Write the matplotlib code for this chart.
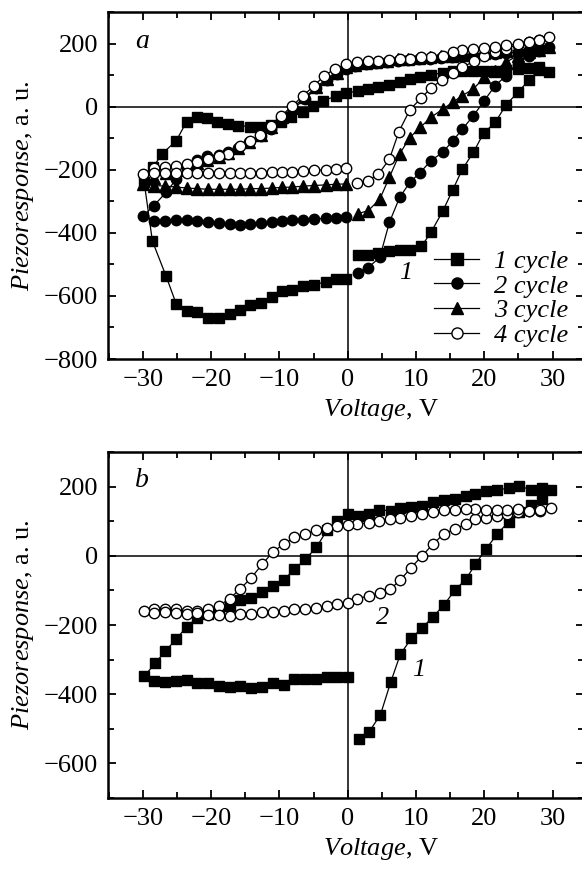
import matplotlib
matplotlib.use("Agg")
import matplotlib.pyplot as plt
from matplotlib.ticker import MultipleLocator
from matplotlib.lines import Line2D

plt.rcParams['font.family'] = ['Liberation Serif', 'DejaVu Serif']
plt.rcParams['mathtext.fontset'] = 'custom'
plt.rcParams['mathtext.rm'] = 'Liberation Serif'
plt.rcParams['mathtext.it'] = 'Liberation Serif:italic'

# ---- panel a: four switching cycles ----
a1_v = [1.5, 3.0, 4.4, 6.1, 7.6, 9.1, 10.8, 12.2, 13.9, 15.4, 16.8, 18.4, 19.9, 21.6, 23.2, 24.9, 26.5, 28.0, 29.5,
        28.0, 26.5, 24.9, 23.2, 21.6, 20.0, 18.4, 16.8, 15.4, 13.9, 12.2, 10.6, 9.1, 7.6, 6.1, 4.4, 3.0, 1.5, -0.2,
        -1.7, -3.6, -5.1, -6.5, -8.3, -9.7, -11.2, -12.9, -14.3, -16.0, -17.5, -19.2, -20.6, -22.1, -23.6, -25.1, -27.2, -28.5, -29.8,
        -28.6, -26.6, -25.1, -23.5, -22.0, -20.5, -18.9, -17.3, -15.8, -14.3, -12.7, -11.1, -9.6, -8.1, -6.5, -4.9, -3.2, -1.7, -0.2]
a1_p = [-470, -470, -465, -459, -456, -454, -443, -398, -332, -263, -198, -145, -84, -50, 6, 45, 83, 117, 109,
        125, 122, 120, 116, 114, 112, 112, 114, 112, 108, 100, 94, 87, 78, 70, 62, 56, 50, 43,
        33, 19, 3, -17, -33, -48, -58, -63, -63, -60, -55, -48, -36, -33, -48, -108, -150, -192, -240,
        -426, -537, -626, -647, -650, -669, -671, -658, -646, -630, -622, -602, -583, -580, -570, -565, -555, -547, -547]

a2_v = [1.5, 3.0, 4.7, 6.1, 7.6, 9.1, 10.6, 12.2, 13.9, 15.4, 16.8, 18.4, 20.0, 21.6, 23.2, 24.9, 26.5, 28.0, 29.5,
        28.0, 26.5, 24.9, 23.2, 21.6, 20.0, 18.4, 16.8, 15.2, 13.7, 12.1, 10.5, 8.9, 7.3, 5.8, 4.2, 2.7, 1.1, -0.2,
        -1.6, -3.1, -4.6, -6.3, -8.0, -9.6, -11.2, -12.7, -14.5, -16.0, -17.5, -18.9, -20.6, -22.1, -23.6, -25.1, -26.6, -28.4, -30.0,
        -28.4, -26.7, -25.1, -23.6, -22.0, -20.5, -18.9, -17.3, -15.8, -14.3, -12.7, -11.1, -9.6, -8.1, -6.5, -4.9, -3.2, -1.7, -0.2]
a2_p = [-526, -510, -478, -367, -288, -240, -209, -171, -145, -108, -71, -29, 19, 67, 98, 136, 162, 175, 188,
        185, 180, 172, 170, 168, 165, 162, 160, 158, 155, 152, 150, 148, 145, 140, 137, 134, 128, 118,
        104, 83, 58, 24, -7, -41, -71, -92, -111, -132, -145, -153, -156, -168, -195, -230, -272, -314, -348,
        -362, -362, -360, -360, -364, -367, -369, -372, -374, -372, -369, -366, -362, -360, -358, -356, -354, -352, -350]

a3_v = a2_v
a3_p = [-339, -330, -293, -224, -150, -98, -66, -34, -8, 14, 35, 56, 93, 114, 141, 162, 172, 178, 190,
        188, 183, 178, 175, 172, 170, 167, 165, 162, 160, 157, 155, 152, 150, 146, 142, 138, 133, 126,
        108, 88, 62, 30, -2, -33, -63, -90, -112, -130, -148, -160, -170, -180, -190, -200, -210, -225, -245,
        -250, -252, -255, -258, -260, -262, -262, -262, -262, -260, -260, -258, -256, -255, -252, -250, -248, -246, -245]

a4_v = [1.4, 2.9, 4.5, 6.1, 7.5, 9.1, 10.8, 12.2, 13.8, 15.4, 16.8, 18.5, 20.0, 21.6, 23.2, 24.9, 26.5, 28.0, 29.5,
        28.0, 26.5, 24.9, 23.2, 21.6, 20.0, 18.4, 16.8, 15.4, 13.9, 12.2, 10.8, 9.1, 7.6, 6.1, 4.5, 2.9, 1.4, -0.2,
        -1.9, -3.4, -5.0, -6.5, -8.1, -9.7, -11.3, -12.8, -14.3, -15.8, -17.5, -18.9, -20.5, -22.1, -23.6, -25.2, -26.7, -28.4, -30.0,
        -28.4, -26.7, -25.1, -23.6, -22.0, -20.5, -18.9, -17.3, -15.8, -14.3, -12.7, -11.1, -9.6, -8.1, -6.5, -4.9, -3.2, -1.7, -0.2]
a4_p = [-243, -235, -214, -167, -79, -10, 28, 59, 85, 106, 125, 144, 160, 172, 184, 196, 204, 212, 220,
        210, 204, 199, 194, 188, 185, 183, 178, 172, 162, 157, 157, 151, 151, 149, 146, 144, 141, 135,
        120, 98, 65, 35, 3, -29, -60, -90, -108, -124, -150, -156, -166, -175, -182, -187, -192, -196, -214,
        -211, -211, -209, -209, -211, -211, -211, -211, -210, -210, -209, -208, -207, -206, -204, -202, -200, -198, -196]

# ---- panel b: two loops ----
b1_v = [1.6, 3.1, 4.8, 6.3, 7.7, 9.3, 10.9, 12.5, 14.1, 15.7, 17.3, 18.7, 20.3, 21.9, 23.6, 25.1, 26.8, 28.4, 29.8,
        28.4, 26.8, 25.1, 23.6, 21.9, 20.3, 18.7, 17.3, 15.7, 14.1, 12.5, 10.9, 9.3, 7.7, 6.3, 4.6, 3.1, 1.6, 0.0,
        -1.5, -3.0, -4.6, -6.2, -7.8, -9.4, -10.9, -12.5, -14.1, -15.7, -17.3, -18.9, -20.5, -22.0, -23.6, -25.1, -26.7, -28.2, -29.8,
        -28.3, -26.7, -25.1, -23.5, -22.0, -20.5, -18.9, -17.3, -15.7, -14.1, -12.5, -10.9, -9.4, -7.8, -6.2, -4.6, -3.0, -1.5, 0.0]
b1_p = [-529, -510, -459, -365, -285, -239, -208, -176, -142, -99, -68, -24, 21, 63, 99, 128, 148, 165, 190,
        195, 190, 203, 195, 191, 188, 179, 172, 164, 160, 155, 145, 142, 137, 130, 133, 121, 116, 121,
        101, 75, 24, -10, -39, -70, -87, -104, -121, -128, -145, -157, -168, -179, -205, -241, -275, -311, -348,
        -362, -365, -362, -360, -369, -369, -377, -379, -377, -382, -379, -369, -372, -357, -356, -356, -350, -350, -350]

b2_v = [1.4, 3.1, 4.7, 6.2, 7.7, 9.3, 10.9, 12.5, 14.1, 15.7, 17.3, 18.7, 20.3, 21.9, 23.3, 25.0, 26.6, 28.2, 29.8,
        28.2, 26.6, 25.0, 23.3, 21.9, 20.3, 18.7, 17.3, 15.7, 14.1, 12.5, 10.9, 9.3, 7.7, 6.2, 4.6, 3.1, 1.4, 0.0,
        -1.6, -3.1, -4.6, -6.2, -7.8, -9.4, -11.0, -12.5, -14.1, -15.7, -17.3, -18.9, -20.5, -22.1, -23.6, -25.1, -26.7, -28.3, -29.8,
        -28.3, -26.7, -25.1, -23.6, -22.0, -20.5, -18.9, -17.3, -15.7, -14.1, -12.5, -11.0, -9.4, -7.8, -6.2, -4.6, -3.1, -1.6, 0.0]
b2_p = [-124, -116, -108, -97, -70, -34, 0, 34, 64, 77, 92, 106, 108, 114, 120, 126, 130, 130, 137,
        131, 129, 135, 133, 133, 133, 135, 135, 133, 133, 128, 121, 116, 108, 106, 101, 95, 92, 89,
        85, 79, 75, 63, 53, 34, 10, -24, -63, -95, -124, -145, -155, -159, -159, -155, -155, -155, -159,
        -166, -163, -166, -169, -166, -172, -172, -174, -169, -169, -163, -162, -159, -155, -153, -150, -145, -140, -135]

a_labels = ['1 cycle', '2 cycle', '3 cycle', '4 cycle']

W, H = 582, 869
fig = plt.figure(figsize=(W / 100, H / 100), dpi=100)


def px_axes(left, right, top, bottom):
    return fig.add_axes([left / W, 1 - bottom / H, (right - left) / W, (bottom - top) / H])


def style(ax, ylim, yticks):
    ax.set_xlim(-35.1, 34.6)
    ax.set_ylim(*ylim)
    ax.set_xticks([-30, -20, -10, 0, 10, 20, 30])
    ax.set_yticks(yticks)
    ax.xaxis.set_minor_locator(MultipleLocator(5))
    ax.yaxis.set_minor_locator(MultipleLocator(100))
    ax.tick_params(which='both', direction='in', top=True, right=True, labelsize=19, width=1.3)
    ax.tick_params(which='major', length=6, pad=7)
    ax.tick_params(which='minor', length=4)
    for s in ax.spines.values():
        s.set_linewidth(1.8)
    ax.axhline(0, color='black', lw=1.1, zorder=1)
    ax.axvline(0, color='black', lw=1.1, zorder=1)
    ax.set_xlabel(r'$\mathit{Voltage}$, V', fontsize=19, labelpad=2)
    ax.set_ylabel(r'$\mathit{Piezoresponse}$, a. u.', fontsize=19, labelpad=6)
    ax.xaxis.set_label_coords((381 - 108) / 476, -0.11)


mk = dict(color='black', lw=0.9, mec='black', mew=1.0)

ax1 = px_axes(108, 584, 12, 359)
style(ax1, (-800, 300), [-800, -600, -400, -200, 0, 200])
ax1.plot(a1_v, a1_p, marker='s', ms=7, mfc='black', zorder=3, **mk)
ax1.plot(a2_v, a2_p, marker='o', ms=7.5, mfc='black', zorder=4, **mk)
ax1.plot(a3_v, a3_p, marker='^', ms=8, mfc='black', zorder=5, **mk)
ax1.plot(a4_v, a4_p, marker='o', ms=7.5, mfc='white', zorder=6, **mk)
ax1.text(-31.1, 187, 'a', fontsize=20, style='italic')
ax1.text(8.5, -527, '1', fontsize=19, style='italic', ha='center', va='center')
handles = [Line2D([], [], marker=m, ms=8, mfc=f, **mk)
           for m, f in [('s', 'black'), ('o', 'black'), ('^', 'black'), ('o', 'white')]]
leg = ax1.legend(handles, a_labels, loc='upper right', bbox_to_anchor=(0.966, 0.315), frameon=False,
                 prop=dict(family='Liberation Serif', style='italic', size=19),
                 handlelength=1.7, handletextpad=0.55, labelspacing=0.04, borderpad=0, borderaxespad=0)

ax2 = px_axes(108, 584, 452, 798)
style(ax2, (-700, 300), [-600, -400, -200, 0, 200])
ax2.plot(b1_v, b1_p, marker='s', ms=7.5, mfc='black', zorder=3, **mk)
ax2.plot(b2_v, b2_p, marker='o', ms=7.5, mfc='white', zorder=4, **mk)
ax2.text(-31.1, 199, 'b', fontsize=20, style='italic')
ax2.text(5.1, -180, '2', fontsize=19, style='italic', ha='center', va='center')
ax2.text(10.4, -330, '1', fontsize=19, style='italic', ha='center', va='center')

fig.savefig('out.png', dpi=100)
